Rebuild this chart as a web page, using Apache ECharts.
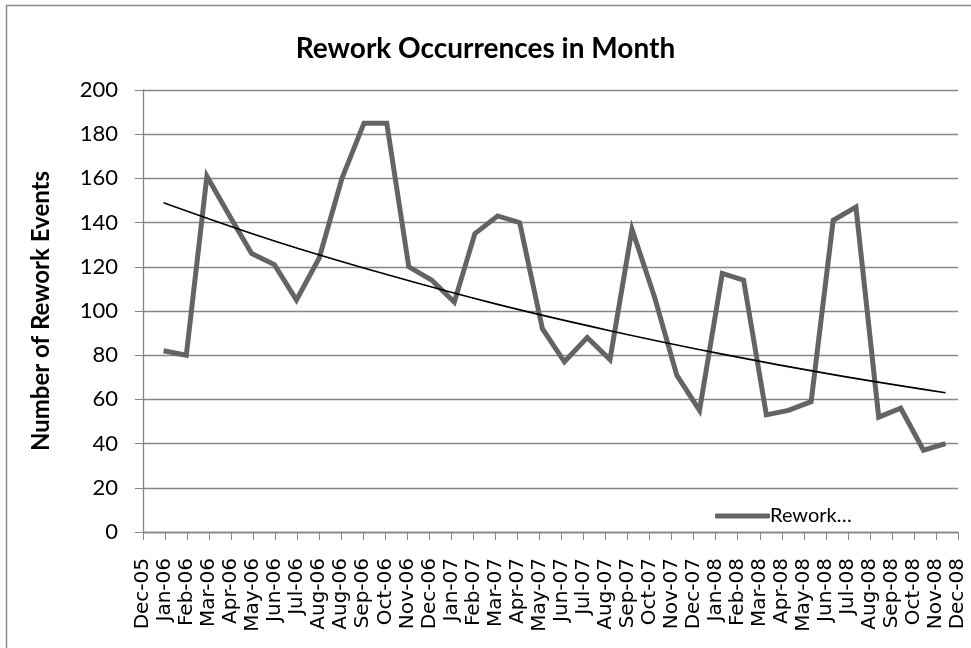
<!DOCTYPE html>
<html>
<head>
<meta charset="utf-8">
<script src="https://cdn.jsdelivr.net/npm/echarts@6/dist/echarts.min.js"></script>
<style>
  html, body { margin: 0; padding: 0; background: #fff; }
  #chart { width: 971px; height: 648px; }
</style>
</head>
<body>
<div id="chart"></div>
<script>
// x axis ticks come every 30 days starting 4 Dec 2005 (that is why Aug-06 shows twice)
const tickLabels = ['Dec-05', 'Jan-06', 'Feb-06', 'Mar-06', 'Apr-06', 'May-06', 'Jun-06', 'Jul-06',
  'Aug-06', 'Aug-06', 'Sep-06', 'Oct-06', 'Nov-06', 'Dec-06', 'Jan-07', 'Feb-07', 'Mar-07', 'Apr-07',
  'May-07', 'Jun-07', 'Jul-07', 'Aug-07', 'Sep-07', 'Oct-07', 'Nov-07', 'Dec-07', 'Jan-08', 'Feb-08',
  'Mar-08', 'Apr-08', 'May-08', 'Jun-08', 'Jul-08', 'Aug-08', 'Sep-08', 'Oct-08', 'Nov-08', 'Dec-08'];
const axisStart = '2005-12-04';
const tickDays = 30;

const months = ['2006-01-01', '2006-02-01', '2006-03-01', '2006-04-01', '2006-05-01', '2006-06-01',
  '2006-07-01', '2006-08-01', '2006-09-01', '2006-10-01', '2006-11-01', '2006-12-01',
  '2007-01-01', '2007-02-01', '2007-03-01', '2007-04-01', '2007-05-01', '2007-06-01',
  '2007-07-01', '2007-08-01', '2007-09-01', '2007-10-01', '2007-11-01', '2007-12-01',
  '2008-01-01', '2008-02-01', '2008-03-01', '2008-04-01', '2008-05-01', '2008-06-01',
  '2008-07-01', '2008-08-01', '2008-09-01', '2008-10-01', '2008-11-01', '2008-12-01'];
const rework = [82, 80, 161, 143, 126, 121, 105, 124, 160, 185, 185, 120,
  114, 104, 135, 143, 140, 92, 77, 88, 78, 137, 106, 71,
  55, 117, 114, 53, 55, 59, 141, 147, 52, 56, 37, 40];

// trend line
const trendDates = ['2006-01-01', '2006-06-01', '2006-11-01', '2007-04-01', '2007-09-01',
  '2008-02-01', '2008-07-01', '2008-12-01'];
const trendValues = [149, 131.7, 116.5, 103, 91.1, 80.5, 71.2, 63];

const yTicks = [0, 20, 40, 60, 80, 100, 120, 140, 160, 180, 200];

const DAY = 86400000;
const dayOf = (d) => (Date.parse(d) - Date.parse(axisStart)) / DAY;

const chart = echarts.init(document.getElementById('chart'));
const gray = '#868686';

const option = {
  animation: false,
  backgroundColor: '#fff',
  title: {
    text: 'Rework Occurrences in Month',
    left: 'center',
    top: 30,
    textStyle: { fontFamily: 'Lato', fontWeight: 'bold', fontSize: 28, color: '#000' }
  },
  graphic: [{
    type: 'rect',
    shape: { x: 6.5, y: 5.5, width: 1000, height: 700 },
    style: { fill: 'none', stroke: '#8c8c8c', lineWidth: 1.5 },
    silent: true
  }],
  legend: {
    data: ['Rework…'],
    left: 710,
    top: 501,
    itemWidth: 55,
    itemHeight: 5,
    itemGap: 4,
    icon: 'roundRect',
    textStyle: { fontFamily: 'Lato', fontSize: 20, color: '#000', padding: [0, 0, 0, -5] }
  },
  grid: { left: 143, right: 13, top: 90, bottom: 116, containLabel: false },
  xAxis: {
    type: 'value',
    min: 0,
    max: tickDays * (tickLabels.length - 1),
    interval: tickDays,
    splitLine: { show: false },
    axisLine: { show: true, lineStyle: { color: gray, width: 1.3 } },
    axisTick: { show: true, length: 8, lineStyle: { color: gray } },
    axisLabel: {
      rotate: 90,
      margin: 26,
      fontFamily: 'DejaVu Sans',
      fontSize: 20,
      color: '#000',
      showMinLabel: true,
      showMaxLabel: true,
      formatter: (v) => tickLabels[Math.round(v / tickDays)]
    }
  },
  yAxis: {
    type: 'value',
    min: yTicks[0],
    max: yTicks[yTicks.length - 1],
    interval: 20,
    name: 'Number of Rework Events',
    nameLocation: 'middle',
    nameGap: 90,
    nameTextStyle: { fontFamily: 'Lato', fontWeight: 'bold', fontSize: 24, color: '#000' },
    axisLine: { show: true, lineStyle: { color: gray, width: 1.3 } },
    axisTick: { show: true, length: 8, lineStyle: { color: gray } },
    axisLabel: { margin: 25, fontFamily: 'Lato', fontSize: 22, color: '#000' },
    splitLine: { show: true, lineStyle: { color: gray, width: 1.3 } }
  },
  series: [
    {
      name: 'Rework…',
      type: 'line',
      data: months.map((m, i) => [dayOf(m), rework[i]]),
      showSymbol: false,
      symbol: 'none',
      lineStyle: { color: '#646464', width: 5, join: 'miter' },
      itemStyle: { color: '#646464' },
      z: 3
    },
    {
      name: 'trend',
      type: 'line',
      data: trendDates.map((d, i) => [dayOf(d), trendValues[i]]),
      smooth: 0.4,
      showSymbol: false,
      symbol: 'none',
      lineStyle: { color: '#000', width: 1.6 },
      z: 4
    }
  ]
};
chart.setOption(option);
</script>
</body>
</html>
